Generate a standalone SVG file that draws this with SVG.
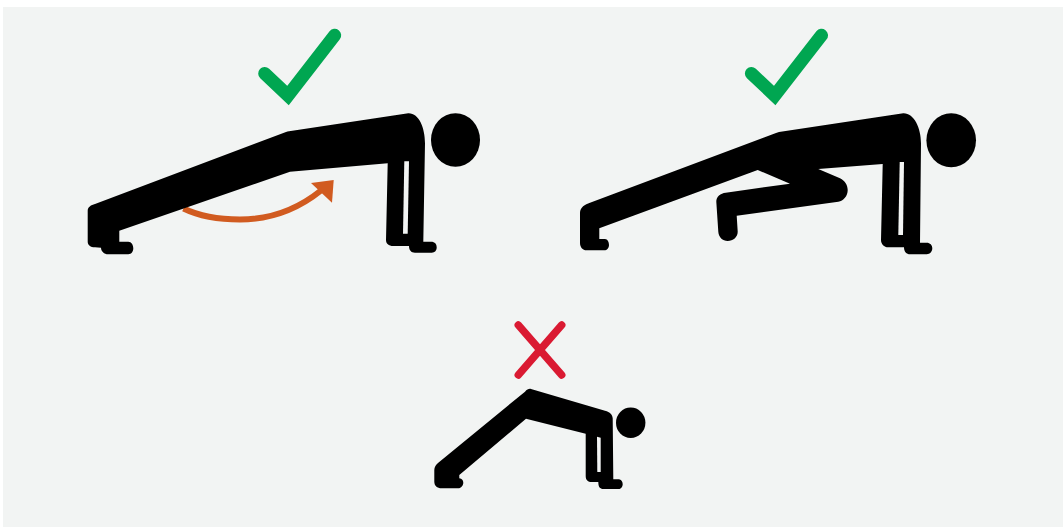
<svg xmlns="http://www.w3.org/2000/svg" width="1063" height="527" viewBox="0 0 1063 527">
<style>
.body{fill:#000}
.slit{fill:#f2f4f3}
.check{fill:none;stroke:#00a651;stroke-width:13;stroke-linecap:round;stroke-linejoin:miter;stroke-miterlimit:10}
.cross{fill:none;stroke:#da1a32;stroke-width:7.500;stroke-linecap:round}
</style>
<rect width="1063" height="527" fill="#ffffff"/>
<rect x="3" y="7" width="1060" height="520" fill="#f2f4f3"/>
<g id="connectors">
<path d="M183.500 208.500C198 215.500 218 219.500 240 219.500C272 219.500 298 209 321 190.500" fill="none" stroke="#d15b20" stroke-width="6"/>
<polygon points="311,183 333.700,180 332,202.700" fill="#d15b20"/>
</g>
<g id="figure-plank">
<path class="check" d="M264.700 73.500L288 95.500L334.700 35.300"/>
<path class="body" d="M95 204L286 132C287 131.500 288 131.400 289 131.300L408.300 113.300C419 113 425 128 425 143.300L423.300 241.700L431 241.700C435 241.700 436.700 244 436.700 247.300C436.700 250.500 435 252.700 431.700 252.700L415 252.700C411 252.700 409 250 409 246L393.300 246C388.500 246 386 243.500 386 240L387.700 163.300L290 171.700L119.300 230.700L119.300 241.700L128.300 241.700C131.500 241.700 133.300 245 133.300 248.300C133.300 251.500 131.500 254.300 128.300 254.300L108.300 254.300C104 254.300 101 251 101 247.700L95 247.300C90.500 247.300 87.700 245 87.700 241.700L87.700 211C87.700 207 91 205 95 204Z"/>
<polygon class="slit" points="404.300,161.300 409,161.300 407.700,233.700 403,233.700"/>
<ellipse class="body" cx="455.500" cy="140" rx="24.500" ry="26.700"/>
</g>
<g id="figure-knee">
<path class="check" d="M751.400 73.500L774.700 95.500L821.500 35.300"/>
<path class="body" d="M590 202.700L776 133C777 132.500 778 132.200 779 132L903.300 113.300C914 113 921 128 921 143.300L920 242.700L926.700 242.700C930 242.700 932.300 245 932.300 248.300C932.300 251.500 930 254.300 926.700 254.300L910 254.300C906.500 254.300 904 252 904 247.300L888.300 247.300C884 247.300 881 244 881 240L882.700 164L818.300 169L840 178.300C845 181 847.700 185 847.700 190C847.700 196 843.500 201 838.300 201.700L736.700 215.700L737.700 231.700C737.700 237 733 241 727.700 241C722.500 241 718.700 237 718.300 231.700L716.300 201.700C716.300 196.500 720.500 193.400 725.700 192.700L790 183.700L757.700 170L599.300 228.300L599.300 239L605 239C607.500 239 609 242 609 245C609 248 607 250.300 604.300 250.300L586.700 250.300C582.500 250.300 580 247 580 243L580 213C580 207 585 204.500 590 202.700Z"/>
<polygon class="slit" points="899.700,162 904,162 903,235 898.300,235"/>
<ellipse class="body" cx="951.200" cy="140.300" rx="24.800" ry="27"/>
</g>
<g id="figure-pike">
<path class="cross" d="M518.300 325L561.700 375M561.700 325L518.300 375"/>
<path class="body" d="M525 391.700C527 389.500 529 388.500 531 389L605 410.700C610 412 612.700 415 612.700 418.300L613.300 479.300L619 479.300C621 479.300 622.700 481.500 622.700 484C622.700 486.700 621 489 619 489L603.300 489C600 489 598.300 487 598.300 482L591.700 482C588 482 585.700 480 585.700 476L585.700 433.700L526 418.700L459.300 475L459.300 478.300C462 478.500 463.300 480.500 463.300 482.700C463.300 485.500 461 488.300 458.300 488.300L441.700 488.300C437 488.300 434.300 485.500 434.300 481.700L434.300 470C434.300 467 436 464.500 438.300 462.700Z"/>
<polygon class="slit" points="597,436.700 600.700,437.700 600.700,472 597.300,472"/>
<ellipse class="body" cx="630.700" cy="422.800" rx="14.700" ry="15.200"/>
</g>
</svg>
